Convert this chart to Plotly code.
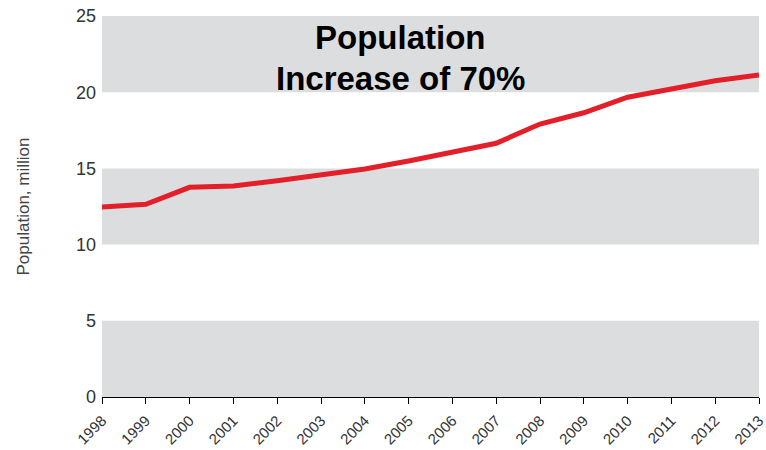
import plotly.graph_objects as go

years = [1998, 1999, 2000, 2001, 2002, 2003, 2004, 2005, 2006, 2007,
         2008, 2009, 2010, 2011, 2012, 2013]
population = [12.47, 12.64, 13.76, 13.85, 14.19, 14.55, 14.96, 15.49,
              16.03, 16.65, 17.91, 18.65, 19.67, 20.19, 20.75, 21.13]
y_ticks = [0, 5, 10, 15, 20, 25]
band_ranges = [(0, 5), (10, 15), (20, 25)]
title_lines = ["Population", "Increase of 70%"]
y_title = "Population, million"

fig = go.Figure()
fig.add_trace(go.Scatter(
    x=years, y=population, mode="lines",
    line=dict(color="#e3202a", width=5),
    hoverinfo="skip", cliponaxis=False,
))

shapes = []
for lo, hi in band_ranges:
    shapes.append(dict(type="rect", xref="x", yref="y",
                       x0=years[0], x1=years[-1], y0=lo, y1=hi,
                       fillcolor="#dcdddf", line=dict(width=0), layer="below"))

annotations = []
for i, t in enumerate(title_lines):
    annotations.append(dict(text="<b>" + t + "</b>", xref="paper", yref="paper",
                            x=0.454, y=[0.944, 0.837][i], xanchor="center", yanchor="middle",
                            showarrow=False,
                            font=dict(family="Liberation Sans, Arial", size=33, color="#000000")))

fig.update_layout(
    width=766, height=450,
    margin=dict(l=102, r=7, t=16, b=53),
    paper_bgcolor="white", plot_bgcolor="white",
    showlegend=False,
    shapes=shapes,
    annotations=annotations,
    font=dict(family="Liberation Sans, Arial", color="#333333"),
)
fig.update_xaxes(
    range=[years[0], years[-1]], tickmode="array", tickvals=years,
    ticktext=[str(y) for y in years], tickangle=-45,
    showgrid=False, zeroline=False, showline=True, linecolor="#000000", linewidth=1,
    ticks="outside", ticklen=6, tickcolor="#000000", tickwidth=1,
    tickfont=dict(size=15, color="#333333"), ticklabelstandoff=2,
    ticklabeloverflow="allow", automargin=False,
)
fig.update_yaxes(
    range=[0, 25], tickmode="array", tickvals=y_ticks,
    showgrid=False, zeroline=False, showline=False, ticks="",
    tickfont=dict(size=18, color="#333333"), ticklabelstandoff=5,
    title=dict(text=y_title, font=dict(size=17, color="#444444"), standoff=42),
    automargin=False,
)

fig.write_html("out.html")
